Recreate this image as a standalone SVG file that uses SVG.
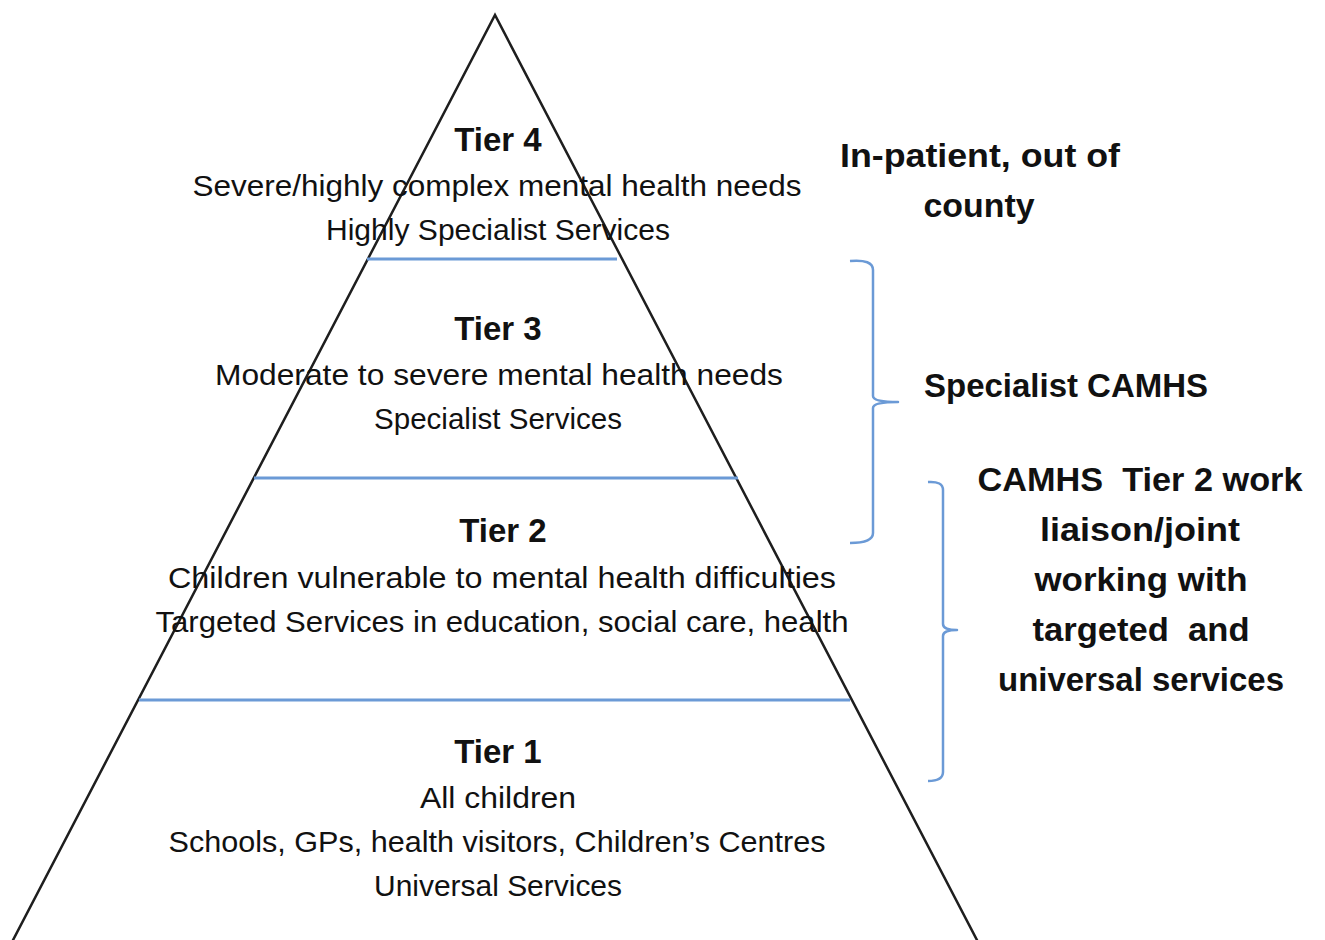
<svg xmlns="http://www.w3.org/2000/svg" width="1325" height="940" viewBox="0 0 1325 940">
<style>
  .tri{fill:none;stroke:#1e1e1e;stroke-width:2.5;stroke-linejoin:miter}
  .sep{stroke:#6b9ad6;stroke-width:3;fill:none}
  .brace{stroke:#6b9ad6;stroke-width:2.5;fill:none;stroke-linejoin:round}
  .t{font-family:"Liberation Sans",Arial,sans-serif;fill:#111;text-anchor:middle}
  .title{font-size:33px;font-weight:bold}
  .body{font-size:29px}
  .side{font-size:34px;font-weight:bold}
</style>
<rect width="1325" height="940" fill="#ffffff"/>
<g id="pyramid">
  <polyline class="tri" points="12,942 495,15 978,942"/>
</g>
<g id="connectors">
  <line class="sep" x1="367" y1="259" x2="617" y2="259"/>
  <line class="sep" x1="254" y1="478" x2="738" y2="478"/>
  <line class="sep" x1="139" y1="700" x2="850" y2="700"/>
  <path class="brace" d="M850,261 Q873,259 873,270 L873,396 Q873,402 898,402 Q873,402 873,408 L873,533 Q873,543 850,543"/>
  <path class="brace" d="M928,482 Q943,481 943,490 L943,624 Q943,630 957,630 Q943,630 943,636 L943,772 Q943,781 928,781"/>
</g>
<g id="tier4">
  <text class="t title" x="498" y="151">Tier 4</text>
  <text class="t body" x="497" y="196" textLength="609" lengthAdjust="spacingAndGlyphs">Severe/highly complex mental health needs</text>
  <text class="t body" x="498" y="240" textLength="344" lengthAdjust="spacingAndGlyphs">Highly Specialist Services</text>
</g>
<g id="tier3">
  <text class="t title" x="498" y="340">Tier 3</text>
  <text class="t body" x="499" y="385" textLength="568" lengthAdjust="spacingAndGlyphs">Moderate to severe mental health needs</text>
  <text class="t body" x="498" y="429" textLength="248" lengthAdjust="spacingAndGlyphs">Specialist Services</text>
</g>
<g id="tier2">
  <text class="t title" x="503" y="542">Tier 2</text>
  <text class="t body" x="502" y="588" textLength="668" lengthAdjust="spacingAndGlyphs">Children vulnerable to mental health difficulties</text>
  <text class="t body" x="502" y="632" textLength="693" lengthAdjust="spacingAndGlyphs">Targeted Services in education, social care, health</text>
</g>
<g id="tier1">
  <text class="t title" x="498" y="763">Tier 1</text>
  <text class="t body" x="498" y="808" textLength="156" lengthAdjust="spacingAndGlyphs">All children</text>
  <text class="t body" x="497" y="852" textLength="657" lengthAdjust="spacingAndGlyphs">Schools, GPs, health visitors, Children’s Centres</text>
  <text class="t body" x="498" y="896" textLength="248" lengthAdjust="spacingAndGlyphs">Universal Services</text>
</g>
<g id="label-inpatient">
  <text class="t side" x="980" y="167" textLength="280" lengthAdjust="spacingAndGlyphs">In-patient, out of</text>
  <text class="t side" x="979" y="217" textLength="111" lengthAdjust="spacingAndGlyphs">county</text>
</g>
<g id="label-specialist">
  <text class="t side" x="1066" y="397" textLength="284" lengthAdjust="spacingAndGlyphs">Specialist CAMHS</text>
</g>
<g id="label-tier2work">
  <text class="t side" x="1140" y="491" textLength="325" lengthAdjust="spacingAndGlyphs" xml:space="preserve">CAMHS  Tier 2 work</text>
  <text class="t side" x="1140" y="541" textLength="200" lengthAdjust="spacingAndGlyphs">liaison/joint</text>
  <text class="t side" x="1141" y="591" textLength="213" lengthAdjust="spacingAndGlyphs">working with</text>
  <text class="t side" x="1141" y="641" textLength="217" lengthAdjust="spacingAndGlyphs" xml:space="preserve">targeted  and</text>
  <text class="t side" x="1141" y="691" textLength="286" lengthAdjust="spacingAndGlyphs">universal services</text>
</g>
</svg>
